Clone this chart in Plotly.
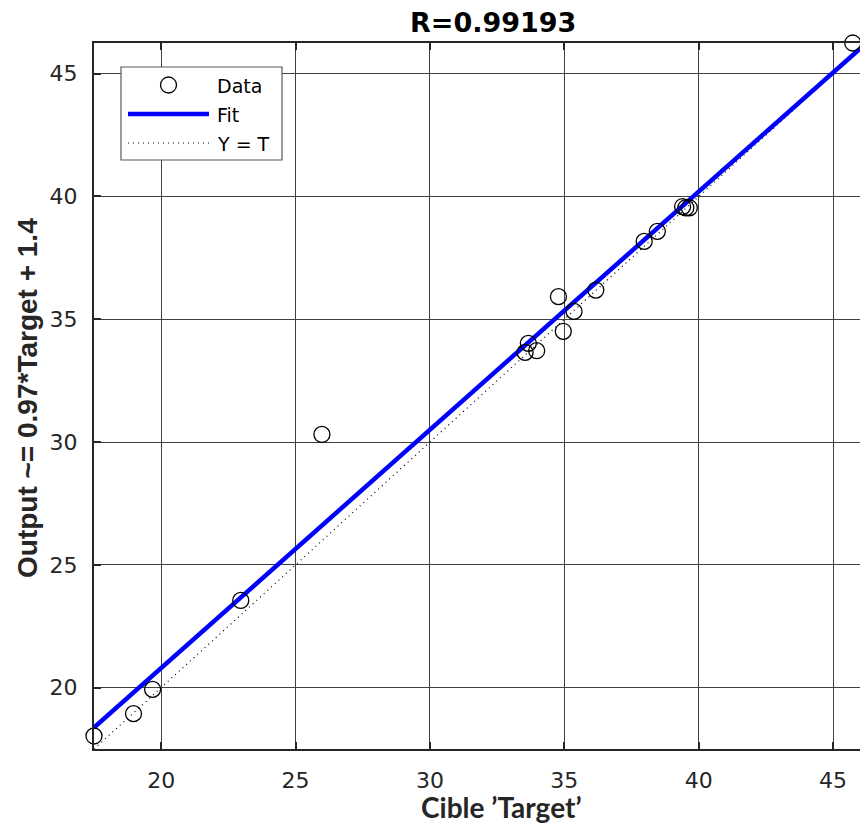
import plotly.graph_objects as go

# ---- data ----
target = [17.50, 18.97, 19.68, 22.96, 25.98, 33.54, 33.66, 33.97, 34.78, 34.96,
          35.36, 36.17, 37.97, 38.46, 39.40, 39.52, 39.65, 45.73]
output = [18.03, 18.94, 19.93, 23.55, 30.31, 33.65, 34.02, 33.72, 35.92, 34.51,
          35.32, 36.19, 38.17, 38.58, 39.59, 39.54, 39.54, 46.25]
fit_slope = 0.97
fit_intercept = 1.4
r_value = "0.99193"
x_range = [17.5, 46.0]
y_range = [17.5, 46.25]
tick_vals = [20, 25, 30, 35, 40, 45]
legend_labels = ["Data", "Fit", "Y = T"]

W, H = 860, 827
L, R, T, B = 94, 0, 43, 78
PW, PH = W - L - R, H - T - B


def px(x):
    return (x - L) / PW


def py(y):
    return (H - B - y) / PH


fig = go.Figure()

# Y = T line
fig.add_trace(go.Scatter(x=x_range, y=x_range, mode="lines",
                         line=dict(color="black", width=1.2, dash="1px,4px"),
                         showlegend=False, hoverinfo="skip"))
# Fit line
fit_y = [fit_slope * v + fit_intercept for v in x_range]
fig.add_trace(go.Scatter(x=x_range, y=fit_y, mode="lines",
                         line=dict(color="#0000ff", width=4.5),
                         showlegend=False, hoverinfo="skip"))
# Data
fig.add_trace(go.Scatter(x=target, y=output, mode="markers",
                         marker=dict(symbol="circle-open", size=16,
                                     color="black", line=dict(width=1.3, color="black")),
                         cliponaxis=False, showlegend=False))

axis_common = dict(
    showgrid=True, gridcolor="#404040", gridwidth=1.3,
    showline=True, linecolor="#262626", linewidth=2.2,
    ticks="inside", ticklen=7, tickwidth=2, tickcolor="#262626",
    tickfont=dict(family="DejaVu Sans", size=22, color="#262626"),
    tickvals=tick_vals, zeroline=False,
)
fig.update_xaxes(range=x_range, mirror="ticks", ticklabelstandoff=10, **axis_common)
fig.update_yaxes(range=y_range, mirror=False, ticklabelstandoff=10, **axis_common)

shapes = []
annotations = []
# legend box
shapes.append(dict(type="rect", xref="paper", yref="paper",
                   x0=px(121), x1=px(282), y0=py(160), y1=py(67),
                   fillcolor="white", line=dict(color="#5a5a5a", width=1.2), layer="above"))
shapes.append(dict(type="circle", xref="paper", yref="paper",
                   x0=px(160.5), x1=px(176.5), y0=py(93), y1=py(77),
                   line=dict(color="black", width=1.3), layer="above"))
shapes.append(dict(type="line", xref="paper", yref="paper",
                   x0=px(128), x1=px(209), y0=py(114), y1=py(114),
                   line=dict(color="#0000ff", width=4.5), layer="above"))
shapes.append(dict(type="line", xref="paper", yref="paper",
                   x0=px(128), x1=px(209), y0=py(143), y1=py(143),
                   line=dict(color="black", width=1.2, dash="1px,4px"), layer="above"))
for lab, yy in zip(legend_labels, [86, 115, 144]):
    annotations.append(dict(text=lab, xref="paper", yref="paper", x=px(215), y=py(yy),
                            xanchor="left", yanchor="middle", showarrow=False,
                            font=dict(family="DejaVu Sans", size=19, color="black")))

# title
annotations.append(dict(text="<b>R=" + r_value + "</b>", xref="paper", yref="paper",
                        x=px(493), y=py(22), xanchor="center", yanchor="middle",
                        showarrow=False,
                        font=dict(family="DejaVu Sans", size=27, color="black")))
# x title
annotations.append(dict(text="<b>Cible \u2019Target\u2019</b>", xref="paper", yref="paper",
                        x=px(501), y=py(807), xanchor="center", yanchor="middle",
                        showarrow=False,
                        font=dict(family="Lato", size=28, color="#262626")))
# y title
annotations.append(dict(text="<b>Output ~= 0.97*Target + 1.4</b>", xref="paper", yref="paper",
                        x=px(28), y=py(398), xanchor="center", yanchor="middle",
                        textangle=-90, showarrow=False,
                        font=dict(family="Liberation Sans", size=28, color="#262626")))

fig.update_layout(
    width=W, height=H,
    margin=dict(l=L, r=R, t=T, b=B, pad=0),
    paper_bgcolor="white", plot_bgcolor="white",
    shapes=shapes, annotations=annotations,
    showlegend=False,
)

fig.write_html("out.html",
               config={"displayModeBar": False},
               post_script="document.body.style.margin='0';document.body.style.padding='0';"
                           "document.body.style.overflow='hidden';")
